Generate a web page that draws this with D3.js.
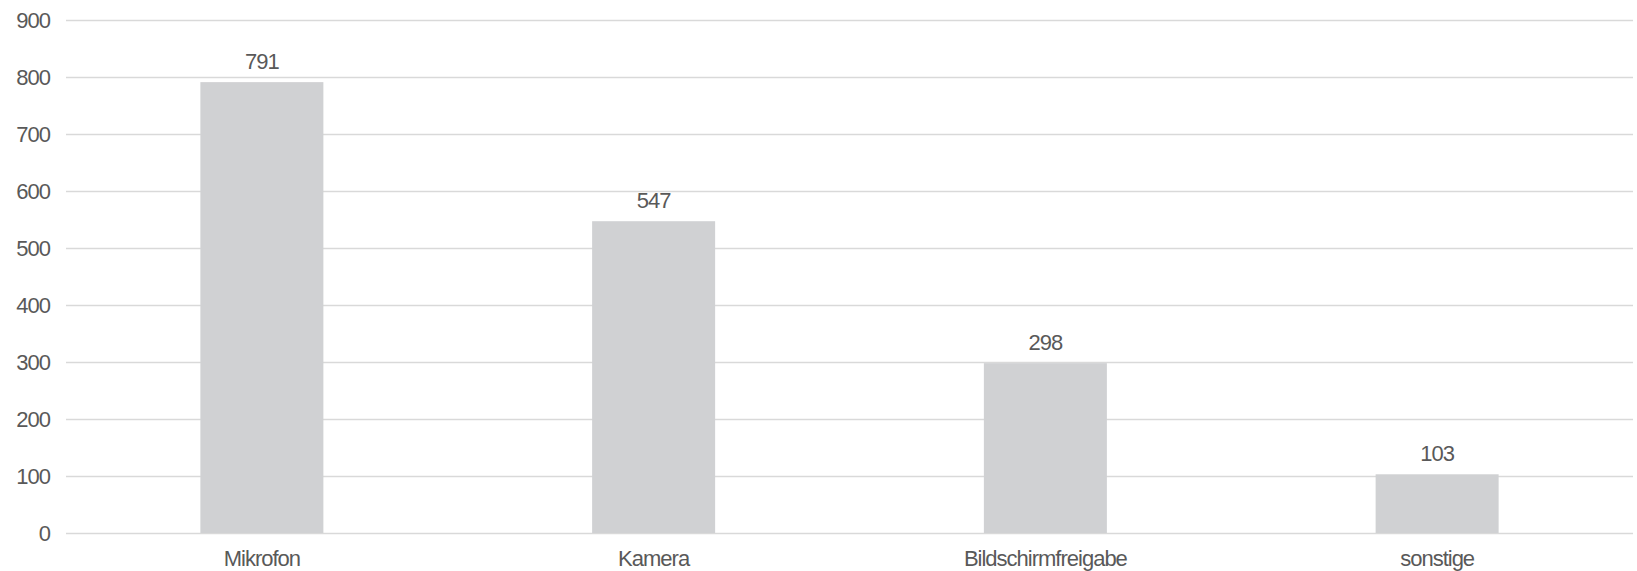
<!DOCTYPE html>
<html>
<head>
<meta charset="utf-8">
<script src="https://cdn.jsdelivr.net/npm/d3@7"></script>
<style>
  body { margin: 0; background: #fff; }
  text { font-family: "Liberation Sans", Arial, sans-serif; fill: #595959; font-size: 22px; letter-spacing: -1px; }
</style>
</head>
<body>
<div id="chart"></div>
<script>
const categories = ["Mikrofon", "Kamera", "Bildschirmfreigabe", "sonstige"];
const values = [791, 547, 298, 103];
const yTicks = [0, 100, 200, 300, 400, 500, 600, 700, 800, 900];

const width = 1637,
    height = 571,
    margin = {top: 20, right: 4, bottom: 38, left: 66};

const svg = d3.select("#chart")
    .append("svg")
    .attr("width", width)
    .attr("height", height);

const g = svg.append("g")
    .attr("transform", `translate(${margin.left},${margin.top})`);

const innerW = width - margin.left - margin.right,
    innerH = height - margin.top - margin.bottom;

const x = d3.scaleBand().domain(categories).range([0, innerW]).paddingInner(0.686).paddingOuter(0.343);
const y = d3.scaleLinear().domain([0, 900]).range([innerH, 0]);

// gridlines
g.selectAll(".grid")
    .data(yTicks)
    .enter().append("line")
    .attr("x1", 0)
    .attr("x2", innerW)
    .attr("y1", d => Math.round(y(d)) + 0.5)
    .attr("y2", d => Math.round(y(d)) + 0.5)
    .attr("stroke", "#d9d9d9")
    .attr("stroke-width", 1.3);

// y axis labels
const yAxis = d3.axisLeft(y).tickValues(yTicks).tickSize(0).tickPadding(16);
g.append("g")
    .call(yAxis)
    .call(a => a.select(".domain").remove());

// bars
g.selectAll(".bar")
    .data(values)
    .enter().append("rect")
    .attr("x", (d, i) => x(categories[i]))
    .attr("y", d => y(d))
    .attr("width", x.bandwidth())
    .attr("height", d => innerH - y(d))
    .attr("fill", "#d0d1d3");

// value labels
g.selectAll(".val")
    .data(values)
    .enter().append("text")
    .attr("x", (d, i) => x(categories[i]) + x.bandwidth() / 2)
    .attr("y", d => y(d) - 13.5)
    .attr("text-anchor", "middle")
    .text(d => d);

// x axis labels
const xAxis = d3.axisBottom(x).tickSize(0).tickPadding(17);
g.append("g")
    .attr("transform", `translate(0,${innerH})`)
    .call(xAxis)
    .call(a => a.select(".domain").remove());

svg.selectAll("g").attr("font-size", null).attr("font-family", null);
</script>
</body>
</html>
